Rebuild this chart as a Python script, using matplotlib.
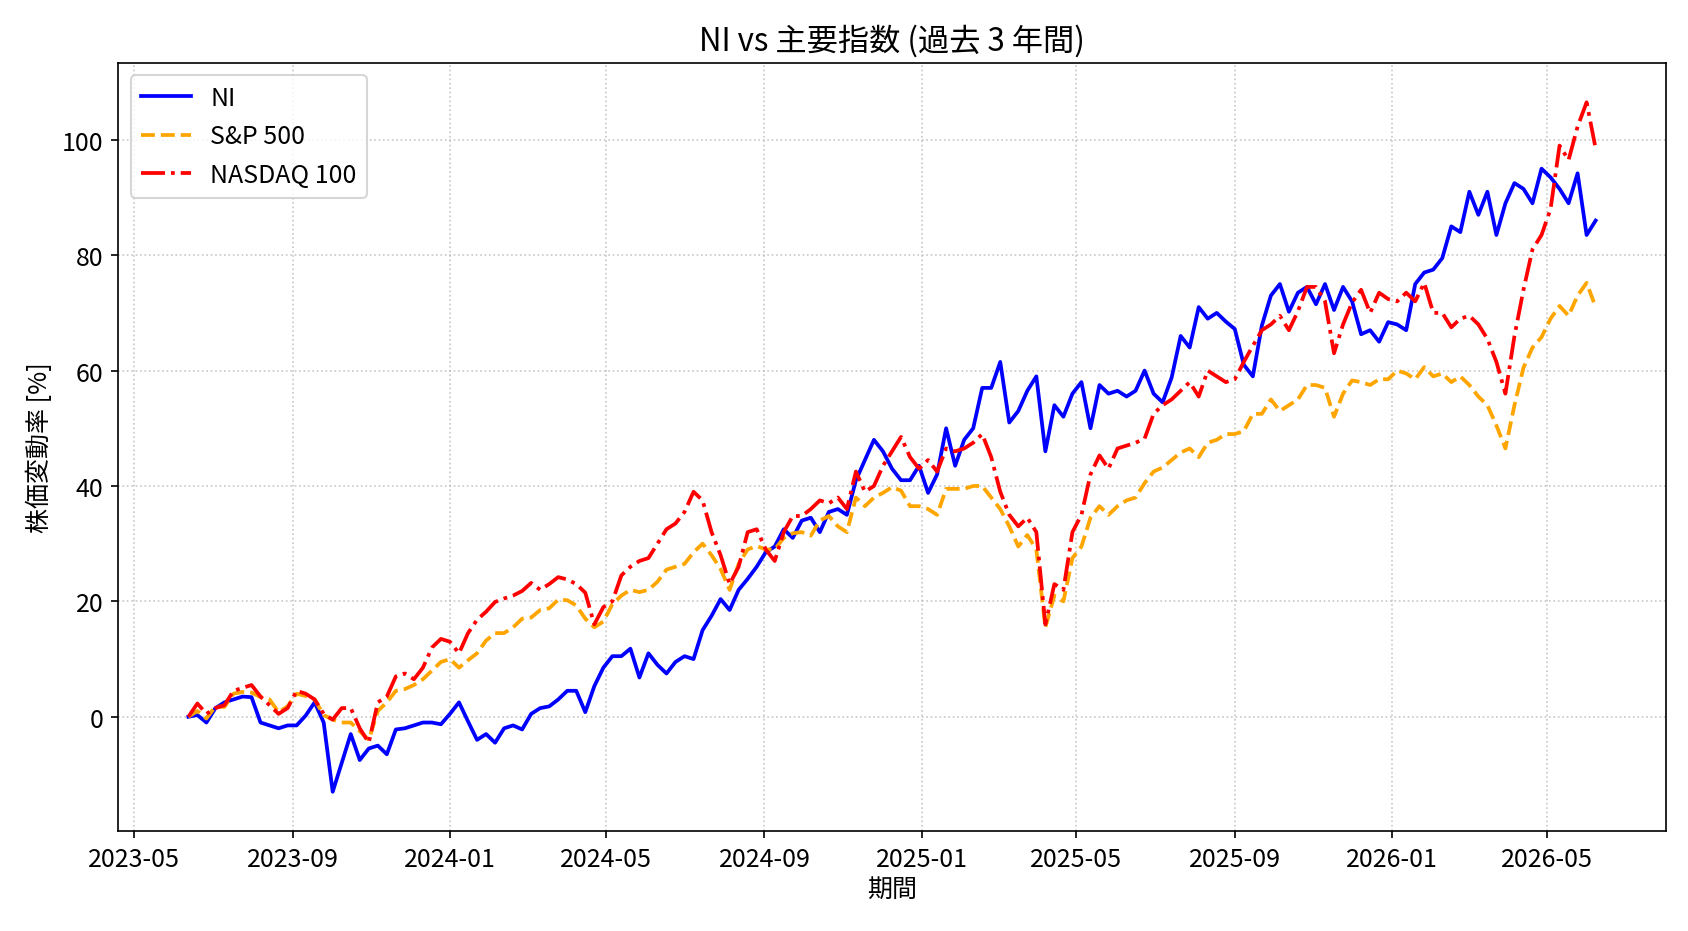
import matplotlib
matplotlib.use("Agg")
import matplotlib.pyplot as plt
import matplotlib.dates as mdates
import pandas as pd

plt.rcParams['font.family'] = ['Noto Sans CJK JP', 'DejaVu Sans']
plt.rcParams['font.size'] = 12

# weekly readings, % change since start
start_date = "2023-06-12"

ni = [
    0, 0.3, -1, 1.5, 2.5, 3, 3.5, 3.4, -1, -1.5,
    -2, -1.5, -1.5, 0.2, 2.5, -1, -13, -8, -3, -7.5,
    -5.5, -5, -6.5, -2.2, -2, -1.5, -1, -1, -1.3, 0.5,
    2.5, -0.8, -4, -3, -4.5, -2, -1.5, -2.2, 0.5, 1.5,
    1.8, 3, 4.5, 4.5, 0.8, 5.3, 8.5, 10.5, 10.5, 11.8,
    6.8, 11, 9, 7.5, 9.5, 10.5, 10, 15, 17.5, 20.4,
    18.5, 22, 23.9, 26, 28.5, 29.5, 32.5, 31, 34, 34.5,
    32, 35.5, 36, 35, 41, 44.5, 48, 46, 43, 41,
    41, 43.5, 38.8, 42, 50, 43.5, 48, 50, 57, 57,
    61.5, 51, 53, 56.5, 59, 46, 54, 52, 56, 58,
    50, 57.5, 56, 56.5, 55.5, 56.5, 60, 56, 54.5, 58.8,
    66, 64, 71, 69, 70, 68.5, 67.2, 61, 59, 67.8,
    73, 75, 70.2, 73.5, 74.5, 71.5, 75, 70.5, 74.5, 72,
    66.3, 67, 65, 68.4, 68, 67, 75, 77, 77.5, 79.5,
    85, 84, 91, 87, 91, 83.5, 89, 92.5, 91.5, 89,
    95, 93.5, 91.5, 89, 94.2, 83.5, 86,
]

sp500 = [
    0, 1, -0.3, 1.8, 1.7, 4, 4.3, 4.2, 3.4, 3,
    0.8, 1.8, 4, 3.6, 3, 0.3, -0.5, -1, -1, -2.5,
    -4, 1, 2.5, 4.5, 4.8, 5.5, 6.5, 8, 9.5, 10,
    8.5, 9.8, 11, 13.2, 14.5, 14.5, 15.5, 17, 17.2, 18.5,
    18.8, 20.3, 20.2, 19.3, 17, 15.5, 16.5, 19.5, 21, 22,
    21.6, 22, 23.4, 25.5, 26, 26.5, 28.5, 30, 28, 25.6,
    22, 26.5, 29, 29.6, 29, 29, 31, 31.8, 32, 31.4,
    34, 34.8, 33, 32, 38, 36.5, 38, 38.8, 39.8, 39.2,
    36.5, 36.5, 36, 35, 39.5, 39.5, 39.5, 40, 40, 38,
    36, 33, 29.5, 31.5, 29, 15.5, 21, 20, 27.5, 29.5,
    34.5, 36.5, 35, 36.5, 37.5, 38, 40.5, 42.5, 43.2, 44.5,
    45.8, 46.5, 45, 47.5, 48, 49, 49, 49.5, 52.5, 52.5,
    55, 53, 54, 55, 57.5, 57.5, 57, 52, 56, 58.3,
    58, 57.5, 58.5, 58.5, 60, 59.5, 58.5, 60.6, 59, 59.5,
    58, 59, 57.5, 55.5, 54, 50.5, 46.5, 54, 60.5, 64,
    65.8, 69, 71.2, 69.5, 73, 75.2, 71,
]

nasdaq100 = [
    0, 2.3, 0.5, 1.5, 2, 4.5, 5, 5.5, 3.5, 2,
    0.5, 1.5, 4.5, 4, 3, 0.5, -0.5, 1.5, 1.5, -2,
    -4.5, 2.5, 3.5, 7, 7.5, 6.5, 8.5, 12, 13.5, 13,
    11, 14.5, 16.8, 18.2, 19.9, 20.5, 21, 21.8, 23.2, 22,
    23, 24.2, 23.8, 23, 21.5, 16, 19, 20, 24.5, 26,
    27, 27.5, 30, 32.5, 33.5, 35.5, 39, 37.5, 32, 28,
    23, 26, 32, 32.5, 29, 27, 32, 34.8, 34.8, 36,
    37.5, 37, 38, 36, 42.5, 39, 40, 43.5, 46, 48.5,
    45, 43, 44.5, 42.5, 46.5, 46, 46.5, 47.5, 49, 45,
    39, 35, 33, 34.5, 32, 16, 23, 22, 32, 35,
    42, 45.3, 43, 46.5, 47, 47.5, 48.2, 52.5, 54, 55,
    56.5, 58, 55.5, 60, 59, 58, 58.5, 61.5, 64.3, 67,
    68, 69.5, 67, 70.3, 74.5, 74.5, 72, 63, 68, 71.8,
    74, 70, 73.5, 72.4, 72, 73.5, 72, 75.2, 70, 70,
    67.5, 69, 69.5, 68, 65.5, 61.5, 56, 66, 74, 81,
    83.5, 88, 99, 96.5, 102.3, 106.5, 98.5,
]

dates = pd.date_range(start_date, periods=len(ni), freq="7D")

fig = plt.figure(figsize=(1688 / 150, 932 / 150), dpi=150)
ax = fig.add_axes([118 / 1688, 1 - 832 / 932, (1666 - 118) / 1688, (832 - 63.5) / 932])

ax.plot(dates, ni, color="blue", linestyle="-", linewidth=1.8, label="NI")
ax.plot(dates, sp500, color="orange", linestyle="--", linewidth=1.8, label="S&P 500")
ax.plot(dates, nasdaq100, color="red", linestyle="-.", linewidth=1.8, label="NASDAQ 100")

ax.set_ylim(-19.8, 113.4)
ax.xaxis.set_major_locator(mdates.MonthLocator(bymonth=[1, 5, 9]))
ax.xaxis.set_major_formatter(mdates.DateFormatter("%Y-%m"))

ax.set_title("NI vs 主要指数 (過去 3 年間)", fontsize=15)
ax.set_xlabel("期間", labelpad=2)
ax.set_ylabel("株価変動率 [%]")
ax.grid(True, linestyle=":", alpha=0.7)
ax.legend(loc="upper left")

fig.savefig("out.png", dpi=150)
